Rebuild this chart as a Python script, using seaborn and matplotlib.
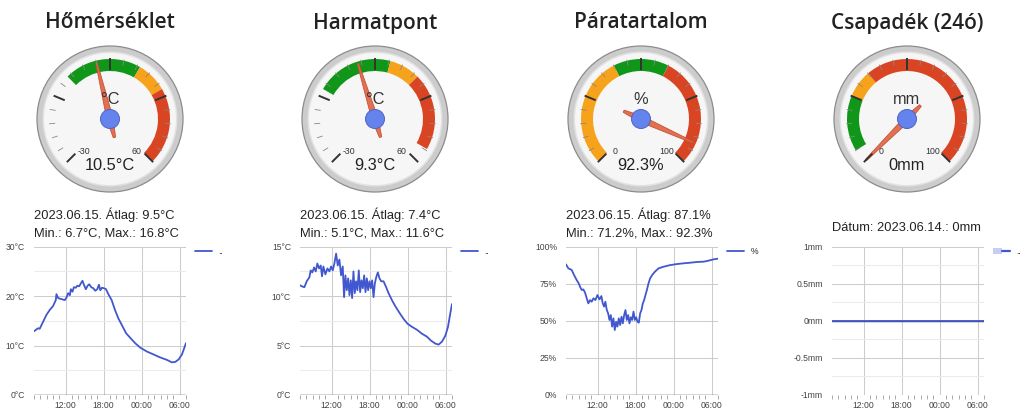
import numpy as np
import pandas as pd
import matplotlib
matplotlib.use('Agg')
import matplotlib.pyplot as plt
import matplotlib.dates as mdates
from matplotlib.patches import Circle, Wedge, Polygon, Patch
from matplotlib.lines import Line2D
from matplotlib.legend_handler import HandlerTuple
import seaborn as sns

# ---- gauges ----
gauge_titles = ['Hőmérséklet', 'Harmatpont', 'Páratartalom', 'Csapadék (24ó)']
gauge_values = [10.5, 9.3, 92.3, 0]
gauge_units = ['°C', '°C', '%', 'mm']
gauge_min = [-30, -30, 0, 0]
gauge_max = [60, 60, 100, 100]
green_bands = [(0, 25), (-5, 20), (40, 60), (5, 25)]
yellow_bands = [(25, 35), (20, 30), (0, 40), (25, 35)]
red_bands = [(35, 60), (30, 55), (60, 100), (35, 100)]

info_texts = [
    ['2023.06.15. Átlag: 9.5°C', 'Min.: 6.7°C, Max.: 16.8°C'],
    ['2023.06.15. Átlag: 7.4°C', 'Min.: 5.1°C, Max.: 11.6°C'],
    ['2023.06.15. Átlag: 87.1%', 'Min.: 71.2%, Max.: 92.3%'],
    ['Dátum: 2023.06.14.: 0mm'],
]

# ---- line charts (hours since 07:00) ----
temp_hours = [0, 0.63, 0.90, 1.43, 1.96, 2.48, 3.01, 3.44, 3.54, 3.81, 4.33, 4.86, 5.13, 5.39,
              5.66, 5.82, 6.08, 6.29, 6.61, 6.82, 7.14, 7.40, 7.66, 7.88, 8.19, 8.46, 8.72, 9.04,
              9.36, 9.67, 9.99, 10.25, 10.47, 10.73, 11.05, 11.37, 11.74, 12.26, 12.79, 13.32,
              13.85, 14.54, 15.17, 15.96, 16.76, 17.81, 18.87, 19.93, 20.99, 21.78, 22.31, 22.84,
              23.36, 24.0]
temp_values = [12.9, 13.5, 13.4, 14.8, 16.2, 17.2, 18.0, 19.2, 20.4, 19.6, 19.4, 19.2, 19.7, 20.6,
               20.2, 21.4, 20.9, 21.8, 21.7, 22.1, 22.0, 22.6, 23.1, 22.3, 21.4, 22.1, 22.4, 21.8,
               21.6, 21.1, 21.4, 22.3, 21.2, 21.7, 21.6, 21.4, 20.4, 19.2, 17.2, 15.5,
               14.2, 12.5, 11.6, 10.5, 9.6, 8.8, 8.2, 7.6, 7.1, 6.6, 6.7, 7.2,
               8.2, 10.5]

dew_hours = [0, 0.26, 0.69, 1.06, 1.48, 1.69, 1.95, 2.22, 2.48, 2.74, 3.01, 3.27, 3.48, 3.69,
             4.01, 4.33, 4.64, 4.91, 5.17, 5.43, 5.70, 5.96, 6.22, 6.49, 6.75, 6.96, 7.17, 7.39,
             7.60, 7.81, 8.02, 8.23, 8.44, 8.65, 8.86, 9.07, 9.28, 9.50, 9.71, 9.92, 10.13,
             10.34, 10.55, 10.76, 10.97, 11.18, 11.39, 11.61, 11.82, 12.03, 12.29, 12.55, 12.82,
             13.19, 13.61, 13.98, 14.51, 15.03, 15.72, 16.35, 16.99, 17.67, 18.46, 19.25, 20.04,
             20.68, 21.36, 21.89, 22.42, 22.95, 23.37, 23.74, 24.0]
dew_values = [11.1, 11.0, 10.9, 11.5, 11.9, 12.6, 12.4, 12.9, 12.5, 13.3, 12.8, 13.1, 12.0, 13.0,
              12.2, 12.8, 12.5, 13.0, 12.6, 13.3, 14.3, 13.1, 13.7, 12.1, 13.0, 9.9, 12.1, 10.6,
              11.8, 10.1, 11.6, 9.8, 12.5, 10.3, 11.5, 10.6, 12.6, 10.4, 11.6, 10.8, 12.1,
              10.4, 11.8, 10.6, 11.5, 10.8, 11.6, 9.9, 11.3, 11.9, 12.4, 11.8, 11.5,
              11.5, 10.9, 10.3, 9.6, 9.0, 8.3, 7.7, 7.2, 6.9, 6.6, 6.2, 5.9,
              5.5, 5.2, 5.1, 5.4, 6.0, 6.9, 8.3, 9.2]

hum_hours = [0, 0.37, 0.90, 1.27, 1.69, 2.00, 2.22, 2.48, 2.74, 3.01, 3.27, 3.53, 3.80, 4.06,
             4.33, 4.64, 4.96, 5.28, 5.59, 5.80, 6.01, 6.22, 6.44, 6.65, 6.86, 7.07, 7.28, 7.49,
             7.70, 7.91, 8.12, 8.33, 8.55, 8.76, 8.97, 9.18, 9.39, 9.60, 9.81, 10.02, 10.23,
             10.44, 10.66, 10.87, 11.08, 11.29, 11.50, 11.71, 11.92, 12.13, 12.34, 12.55, 12.77,
             13.03, 13.29, 13.61, 14.03, 14.61, 15.40, 16.46, 17.51, 18.57, 19.62, 20.68, 21.73,
             22.52, 23.32, 24.0]
hum_values = [88.1, 85.4, 84.3, 80.9, 77.5, 75.3, 73.0, 70.8, 71.2, 69.0, 65.2, 61.8, 64.0, 62.9,
              65.2, 64.0, 67.4, 64.5, 66.7, 61.8, 59.6, 62.9, 57.3, 55.1, 50.6, 53.9, 46.1, 51.7,
              43.8, 49.4, 46.1, 51.7, 47.2, 52.8, 48.3, 53.9, 57.3, 50.6, 53.9, 48.3, 52.4,
              50.6, 56.2, 50.6, 52.4, 49.4, 48.8, 55.1, 57.3, 61.8, 64.0, 67.4, 70.8,
              75.3, 78.7, 80.9, 83.1, 85.4, 86.5, 87.6, 88.3, 88.8, 89.2, 89.7, 89.9,
              90.6, 91.5, 91.9]

rain_hours = [0, 24]
rain_values = [0, 0]

chart_yticks = [[0, 10, 20, 30], [0, 5, 10, 15], [0, 25, 50, 75, 100], [-1, -0.5, 0, 0.5, 1]]
chart_yminor = [[5, 15, 25], [2.5, 7.5, 12.5], [], [-0.75, -0.25, 0.25, 0.75]]
chart_ylabels = [['0°C', '10°C', '20°C', '30°C'], ['0°C', '5°C', '10°C', '15°C'],
                 ['0%', '25%', '50%', '75%', '100%'], ['-1mm', '-0.5mm', '0mm', '0.5mm', '1mm']]
legend_labels = ['..', '..', '%', '..']

LINE = '#4157cf'
W, H = 1024, 420

sns.set_style('white')
plt.rcParams['font.family'] = ['Liberation Sans', 'DejaVu Sans']

fig = plt.figure(figsize=(10.24, 4.2), dpi=100)


def px_axes(x, y, w, h):
    return fig.add_axes([x / W, 1 - (y + h) / H, w / W, h / H])


def ang(v, lo, hi):
    return -135 + 270 * (v - lo) / (hi - lo)


def draw_gauge(ax, value, unit, lo, hi, bands):
    ax.set_xlim(-80, 80)
    ax.set_ylim(-80, 80)
    ax.set_aspect('equal')
    ax.axis('off')
    ax.add_patch(Circle((0, 0), 73, fc='#cccccc', ec='#8c8c8c', lw=0.9))
    ax.add_patch(Circle((0, 0), 67.5, fc='#e2e2e2', ec='none'))
    ax.add_patch(Circle((0, 0), 66, fc='#f6f6f6', ec='none'))
    for (v1, v2), col in bands:
        ax.add_patch(Wedge((0, 0), 60, 90 - ang(v2, lo, hi), 90 - ang(v1, lo, hi),
                           width=12, fc=col, ec='none'))
    for i in range(21):
        a = np.radians(-135 + 13.5 * i)
        major = i % 5 == 0
        r0 = 49 if major else 55
        ax.plot([r0 * np.sin(a), 61 * np.sin(a)], [r0 * np.cos(a), 61 * np.cos(a)],
                color='#333333' if major else '#888888', lw=1.4 if major else 0.6,
                solid_capstyle='butt')
    ax.text(-26, -33, f'{lo}', fontsize=6.3, ha='center', va='center', color='#333333')
    ax.text(26, -33, f'{hi}', fontsize=6.3, ha='center', va='center', color='#333333')
    ax.text(0, 20, unit, fontsize=11.8, ha='center', va='center', color='#333333')
    ax.text(0, -46, f'{value:g}{unit}', fontsize=11.8, ha='center', va='center', color='#222222')
    a = np.radians(ang(value, lo, hi))
    d = np.array([np.sin(a), np.cos(a)])
    p = np.array([d[1], -d[0]])
    pts = [58 * d + 0.8 * p, 3.2 * p, -19 * d + 1.2 * p, -19 * d - 1.2 * p, -3.2 * p, 58 * d - 0.8 * p]
    ax.add_patch(Polygon(pts, closed=True, fc='#e2694a', ec='#c24f30', lw=0.6, alpha=0.95))
    ax.add_patch(Circle((0, 0), 9.5, fc='#6583ec', ec='#4d64c4', lw=0.7))


gauge_cx = [110, 375, 641, 907]
gauge_cy = 119
band_colors = ['#109618', '#f7a21b', '#d94522']
for i in range(4):
    fig.text(gauge_cx[i] / W, 1 - 28.5 / H, gauge_titles[i], fontsize=15, ha='center',
             va='baseline', color='#222222', family=['Open Sans', 'DejaVu Sans'], weight='semibold')
    gax = px_axes(gauge_cx[i] - 80, gauge_cy - 80, 160, 160)
    bands = list(zip([green_bands[i], yellow_bands[i], red_bands[i]], band_colors))
    draw_gauge(gax, gauge_values[i], gauge_units[i], gauge_min[i], gauge_max[i], bands)

# info texts
text_x = [34, 300, 566, 832]
for i in range(4):
    ys = [219.5, 236] if len(info_texts[i]) == 2 else [231]
    for line, y in zip(info_texts[i], ys):
        fig.text(text_x[i] / W, 1 - y / H, line, fontsize=9.3, ha='left', va='baseline',
                 color='#222222')

# line charts
start = pd.Timestamp('2023-06-14 07:00')
series = [(temp_hours, temp_values), (dew_hours, dew_values), (hum_hours, hum_values),
          (rain_hours, rain_values)]
chart_x = [34, 300, 566, 832]
for i, (hrs, vals) in enumerate(series):
    ax = px_axes(chart_x[i], 246.7, 152, 148.3)
    times = start + pd.to_timedelta(hrs, unit='h')
    sns.lineplot(x=times, y=vals, ax=ax, color=LINE, linewidth=1.3, label=legend_labels[i],
                 zorder=3)
    ax.set_xlim(start, start + pd.Timedelta(hours=24))
    ax.set_ylim(chart_yticks[i][0], chart_yticks[i][-1])
    ax.set_xlabel('')
    ax.set_ylabel('')
    ax.set_yticks(chart_yticks[i])
    ax.set_yticklabels(chart_ylabels[i])
    ax.set_yticks(chart_yminor[i], minor=True)
    ax.xaxis.set_major_locator(mdates.HourLocator(byhour=[0, 6, 12, 18]))
    ax.xaxis.set_major_formatter(mdates.DateFormatter('%H:%M'))
    ax.xaxis.set_minor_locator(mdates.HourLocator())
    ax.set_axisbelow(True)
    ax.grid(which='major', color='#cccccc', lw=0.75)
    ax.grid(which='minor', axis='y', color='#ebebeb', lw=0.75)
    ax.axhline(0, color='#333333', lw=1.0, zorder=2)
    for s in ax.spines.values():
        s.set_visible(False)
    ax.tick_params(axis='y', which='both', left=True, length=0, pad=6.5, labelsize=6.2,
                   labelcolor='#444444')
    ax.tick_params(axis='x', which='major', bottom=True, length=0, pad=4.5, labelsize=6.2,
                   labelcolor='#444444')
    ax.tick_params(axis='x', which='minor', bottom=True, length=3, width=0.7, color='#aaaaaa',
                   direction='out')
    if i == 3:
        handles = [(Patch(fc='#c8cef2', ec='none'), Line2D([], [], color=LINE, lw=1.6))]
        ax.legend(handles, [legend_labels[i]], handler_map={tuple: HandlerTuple(ndivide=None)},
                  loc='upper left', bbox_to_anchor=(1.06, 1.0), frameon=False, fontsize=6.2,
                  borderaxespad=0, borderpad=0, handlelength=2.0, handletextpad=0.7)
    else:
        ax.legend(loc='upper left', bbox_to_anchor=(1.06, 1.0), frameon=False, fontsize=6.2,
                  borderaxespad=0, borderpad=0, handlelength=2.0, handletextpad=0.7)

fig.savefig('out.png', dpi=100)
